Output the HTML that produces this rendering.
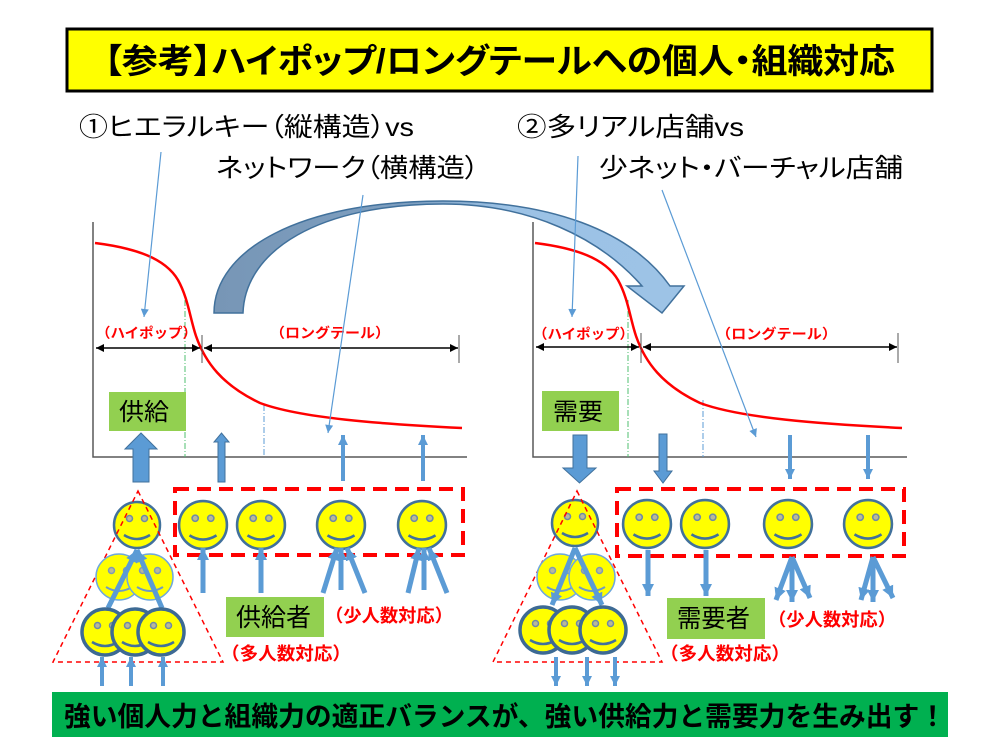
<!DOCTYPE html>
<html><head><meta charset="utf-8"><style>
html,body{margin:0;padding:0;background:#fff;}
svg{display:block;}
text{font-family:"Liberation Sans","Noto Sans CJK JP",sans-serif;}
.p{font-feature-settings:"palt";}
</style></head><body>
<svg width="1000" height="750" viewBox="0 0 1000 750" xmlns="http://www.w3.org/2000/svg">
<defs>
<marker id="bh" viewBox="0 0 10 10" refX="10" refY="5" markerWidth="10" markerHeight="8" orient="auto-start-reverse" markerUnits="userSpaceOnUse"><path d="M0,0 L10,5 L0,10z" fill="#000"/></marker>
<marker id="th" viewBox="0 0 10 10" refX="10" refY="5" markerWidth="10" markerHeight="8" orient="auto" markerUnits="userSpaceOnUse"><path d="M0,0 L10,5 L0,10z" fill="#5b9bd5"/></marker>
<marker id="tk" viewBox="0 0 10 10" refX="10" refY="5" markerWidth="12" markerHeight="14" orient="auto" markerUnits="userSpaceOnUse"><path d="M0,0 L10,5 L0,10z" fill="#5b9bd5"/></marker>
<marker id="ts" viewBox="0 0 10 10" refX="10" refY="5" markerWidth="10" markerHeight="12" orient="auto" markerUnits="userSpaceOnUse"><path d="M0,0 L10,5 L0,10z" fill="#5b9bd5"/></marker>
<linearGradient id="g" x1="214" x2="684" y1="0" y2="0" gradientUnits="userSpaceOnUse">
<stop offset="0" stop-color="#7796b6"/><stop offset="0.42" stop-color="#7e9fc0"/><stop offset="0.62" stop-color="#9cc2e5"/><stop offset="1" stop-color="#9dc3e6"/></linearGradient>
<g id="fa"><circle r="23" fill="#ffff00" stroke="#41719c" stroke-width="2.5"/><circle cx="-7.5" cy="-6.5" r="3" fill="#b8b89a" stroke="#6f8aa5" stroke-width="1.5"/><circle cx="7.5" cy="-6.5" r="3" fill="#b8b89a" stroke="#6f8aa5" stroke-width="1.5"/><path d="M-13,10 Q0,18 13,10" fill="none" stroke="#41719c" stroke-width="2.5"/></g>
<g id="fm"><circle r="23" fill="#ffff00" stroke="#6fa8dc" stroke-width="1.5"/><circle cx="-7.5" cy="-6.5" r="3" fill="#b8b89a" stroke="#7f9ab5" stroke-width="1.5"/><circle cx="7.5" cy="-6.5" r="3" fill="#b8b89a" stroke="#7f9ab5" stroke-width="1.5"/><path d="M-13,10 Q0,18 13,10" fill="none" stroke="#6f9ac5" stroke-width="2"/></g>
<g id="fb"><circle r="23" fill="#ffff00" stroke="#3d6a94" stroke-width="3.5"/><circle cx="-7.5" cy="-6.5" r="3" fill="#b8b89a" stroke="#6f8aa5" stroke-width="1.5"/><circle cx="7.5" cy="-6.5" r="3" fill="#b8b89a" stroke="#6f8aa5" stroke-width="1.5"/><path d="M-13,10 Q0,18 13,10" fill="none" stroke="#41719c" stroke-width="2.5"/></g>
</defs>
<rect width="1000" height="750" fill="#fff"/>

<!-- Title -->
<rect x="67" y="29" width="865" height="62" fill="#ffff00" stroke="#000" stroke-width="3"/>
<text class="p" x="104" y="73" font-size="34" font-weight="bold" textLength="791" lengthAdjust="spacingAndGlyphs">【参考】ハイポップ/ロングテールへの個人・組織対応</text>

<!-- subheadings -->
<text class="p" x="79" y="136" font-size="26" textLength="335" lengthAdjust="spacingAndGlyphs">①ヒエラルキー（縦構造）vs</text>
<text class="p" x="216" y="177" font-size="26" textLength="263" lengthAdjust="spacingAndGlyphs">ネットワーク（横構造）</text>
<text class="p" x="517" y="136" font-size="26" textLength="227" lengthAdjust="spacingAndGlyphs">②多リアル店舗vs</text>
<text class="p" x="599" y="177" font-size="26" textLength="304" lengthAdjust="spacingAndGlyphs">少ネット・バーチャル店舗</text>

<!-- axes -->
<path d="M93,222 V457 H467" fill="none" stroke="#595959" stroke-width="1.5"/>
<path d="M533,222 V457 H907" fill="none" stroke="#595959" stroke-width="1.5"/>

<!-- dash-dot guides -->
<g stroke-width="1" fill="none" stroke-dasharray="6,2,1,2">
<line x1="185" y1="300" x2="185" y2="457" stroke="#4fbf6f"/>
<line x1="264" y1="405" x2="264" y2="457" stroke="#5b9bd5"/>
<line x1="628" y1="300" x2="628" y2="457" stroke="#4fbf6f"/>
<line x1="703" y1="400" x2="703" y2="457" stroke="#5b9bd5"/>
</g>

<!-- red curves -->
<path d="M95,243 C135,248 165,258 178,280 C188,298 190,318 196,336 C205,362 222,385 260,403 C300,418 380,424 462,428" fill="none" stroke="#ff0000" stroke-width="2.5"/>
<path d="M535,243 C575,248 605,258 618,280 C628,298 630,318 636,336 C645,362 662,385 700,403 C740,418 820,424 902,428" fill="none" stroke="#ff0000" stroke-width="2.5"/>

<!-- double arrows -->
<g stroke="#000" stroke-width="1.5">
<line x1="96" y1="348" x2="200" y2="348" marker-start="url(#bh)" marker-end="url(#bh)"/>
<line x1="204" y1="348" x2="458" y2="348" marker-start="url(#bh)" marker-end="url(#bh)"/>
<line x1="536" y1="347" x2="639" y2="347" marker-start="url(#bh)" marker-end="url(#bh)"/>
<line x1="643" y1="347" x2="897" y2="347" marker-start="url(#bh)" marker-end="url(#bh)"/>
</g>
<g stroke="#555" stroke-width="1">
<line x1="202" y1="335" x2="202" y2="363"/><line x1="459" y1="335" x2="459" y2="363"/>
<line x1="641" y1="333" x2="641" y2="363"/><line x1="898" y1="333" x2="898" y2="363"/>
</g>

<!-- chart labels -->
<g fill="#ff0000" font-weight="bold" font-size="14">
<text x="96" y="338" textLength="101" lengthAdjust="spacingAndGlyphs">（ハイポップ）</text>
<text x="270" y="338" textLength="120" lengthAdjust="spacingAndGlyphs">（ロングテール）</text>
<text x="533" y="339" textLength="101" lengthAdjust="spacingAndGlyphs">（ハイポップ）</text>
<text x="716" y="339" textLength="121" lengthAdjust="spacingAndGlyphs">（ロングテール）</text>
</g>

<!-- green boxes -->
<rect x="109" y="392" width="77" height="39" fill="#92d050"/>
<text x="119" y="420" font-size="24" textLength="50" lengthAdjust="spacingAndGlyphs">供給</text>
<rect x="542" y="391" width="77" height="40" fill="#92d050"/>
<text x="553" y="420" font-size="24" textLength="50" lengthAdjust="spacingAndGlyphs">需要</text>

<!-- curved big arrow -->
<path d="M214,313 C214,250 300,201 443,201 C550,201 630,230 670,286 L684,286 L662,313 L627,286 L642,286 C600,238 530,204 443,204 C320,204 245,250 243,313 Z" fill="url(#g)" stroke="#41719c" stroke-width="1.5"/>

<!-- thin connectors -->
<g stroke="#5b9bd5" stroke-width="1.2" fill="none">
<line x1="161" y1="152" x2="144" y2="317" marker-end="url(#th)"/>
<line x1="363" y1="195" x2="328" y2="433" marker-end="url(#th)"/>
<line x1="578" y1="156" x2="572" y2="317" marker-end="url(#th)"/>
<line x1="662" y1="190" x2="756" y2="437" marker-end="url(#th)"/>
</g>

<!-- block arrows left (up) -->
<g fill="#5b9bd5" stroke="#41719c" stroke-width="1">
<path d="M133,482 V449 H125 L141,433 L157,449 H149 V482 Z"/>
<path d="M218,482 V442 H214 L221.5,433 L229,442 H225 V482 Z"/>
<path d="M563,468 H573 V435 H587 V468 H596 L579.5,483 Z"/>
<path d="M654,471 H659 V434 H667 V471 H672 L663,483 Z"/>
</g>
<g stroke="#5b9bd5" stroke-width="4" fill="none">
<line x1="343" y1="481" x2="343" y2="435" marker-end="url(#ts)"/>
<line x1="423" y1="481" x2="423" y2="435" marker-end="url(#ts)"/>
<line x1="790" y1="435" x2="790" y2="479" marker-end="url(#ts)"/>
<line x1="868" y1="435" x2="868" y2="479" marker-end="url(#ts)"/>
</g>

<!-- red dashed rects -->
<rect x="175" y="489" width="288" height="66" fill="none" stroke="#ff0000" stroke-width="4" stroke-dasharray="14,8"/>
<rect x="617" y="489" width="287" height="67" fill="none" stroke="#ff0000" stroke-width="4" stroke-dasharray="14,8"/>

<!-- boxed faces -->
<use href="#fa" transform="translate(203,525) scale(1.04)"/>
<use href="#fa" transform="translate(261,525) scale(1.04)"/>
<use href="#fa" transform="translate(341,525) scale(1.04)"/>
<use href="#fa" transform="translate(422,525) scale(1.04)"/>
<use href="#fa" transform="translate(647,524) scale(1.04)"/>
<use href="#fa" transform="translate(705,524) scale(1.04)"/>
<use href="#fa" transform="translate(788,524) scale(1.04)"/>
<use href="#fa" transform="translate(868,524) scale(1.04)"/>

<!-- hierarchy left -->
<use href="#fa" transform="translate(137,525)"/>
<polygon points="138,491 223,662 53,662" fill="none" stroke="#ff0000" stroke-width="1.5" stroke-dasharray="5,4"/>
<use href="#fm" transform="translate(119,577)"/>
<use href="#fm" transform="translate(150,577)"/>
<g stroke="#5b9bd5" stroke-width="5" fill="none">
<line x1="108" y1="608" x2="137" y2="550" marker-end="url(#tk)"/>
<line x1="162" y1="608" x2="137" y2="550" marker-end="url(#tk)"/>
</g>
<use href="#fb" transform="translate(105,632)"/>
<use href="#fb" transform="translate(135,632)"/>
<use href="#fb" transform="translate(161,632)"/>

<!-- hierarchy right -->
<use href="#fa" transform="translate(575,523)"/>
<polygon points="577,491 662,662 493,662" fill="none" stroke="#ff0000" stroke-width="1.5" stroke-dasharray="5,4"/>
<use href="#fm" transform="translate(560,577)"/>
<use href="#fm" transform="translate(592,577)"/>
<g stroke="#5b9bd5" stroke-width="5" fill="none">
<line x1="575" y1="548" x2="552" y2="605" marker-end="url(#tk)"/>
<line x1="575" y1="548" x2="602" y2="605" marker-end="url(#tk)"/>
</g>
<use href="#fb" transform="translate(543,630)"/>
<use href="#fb" transform="translate(572,630)"/>
<use href="#fb" transform="translate(603,630)"/>

<!-- face arrows -->
<g stroke="#5b9bd5" stroke-width="5" fill="none">
<line x1="203" y1="593" x2="203" y2="548" marker-end="url(#tk)"/>
<line x1="261" y1="593" x2="261" y2="548" marker-end="url(#tk)"/>
<line x1="323" y1="593" x2="337" y2="548" marker-end="url(#tk)"/>
<line x1="341" y1="590" x2="341" y2="548" marker-end="url(#tk)"/>
<line x1="365" y1="593" x2="347" y2="548" marker-end="url(#tk)"/>
<line x1="408" y1="593" x2="419" y2="548" marker-end="url(#tk)"/>
<line x1="424" y1="590" x2="424" y2="548" marker-end="url(#tk)"/>
<line x1="447" y1="593" x2="429" y2="548" marker-end="url(#tk)"/>
<line x1="648" y1="550" x2="648" y2="596" marker-end="url(#tk)"/>
<line x1="706" y1="550" x2="706" y2="596" marker-end="url(#tk)"/>
<line x1="792" y1="557" x2="776" y2="600" marker-end="url(#tk)"/>
<line x1="792" y1="557" x2="792" y2="602" marker-end="url(#tk)"/>
<line x1="792" y1="557" x2="810" y2="598" marker-end="url(#tk)"/>
<line x1="873" y1="557" x2="861" y2="600" marker-end="url(#tk)"/>
<line x1="873" y1="557" x2="873" y2="602" marker-end="url(#tk)"/>
<line x1="873" y1="557" x2="893" y2="598" marker-end="url(#tk)"/>
</g>
<g stroke="#5b9bd5" stroke-width="4" fill="none">
<line x1="102" y1="686" x2="102" y2="657" marker-end="url(#ts)"/>
<line x1="131" y1="686" x2="131" y2="657" marker-end="url(#ts)"/>
<line x1="163" y1="686" x2="163" y2="657" marker-end="url(#ts)"/>
<line x1="556" y1="657" x2="556" y2="686" marker-end="url(#ts)"/>
<line x1="587" y1="657" x2="587" y2="686" marker-end="url(#ts)"/>
<line x1="615" y1="657" x2="615" y2="686" marker-end="url(#ts)"/>
</g>

<!-- lower labels -->
<rect x="226" y="597" width="98" height="40" fill="#92d050"/>
<text x="236" y="626" font-size="25" textLength="75" lengthAdjust="spacingAndGlyphs">供給者</text>
<rect x="667" y="598" width="98" height="41" fill="#92d050"/>
<text x="677" y="627" font-size="25" textLength="73" lengthAdjust="spacingAndGlyphs">需要者</text>
<g fill="#ff0000" font-weight="bold" font-size="18">
<text x="325" y="622" textLength="128" lengthAdjust="spacingAndGlyphs">（少人数対応）</text>
<text x="221" y="660" textLength="130" lengthAdjust="spacingAndGlyphs">（多人数対応）</text>
<text x="768" y="626" textLength="128" lengthAdjust="spacingAndGlyphs">（少人数対応）</text>
<text x="660" y="660" textLength="130" lengthAdjust="spacingAndGlyphs">（多人数対応）</text>
</g>

<!-- bottom bar -->
<rect x="52" y="692" width="896" height="45" fill="#00b050"/>
<text x="64" y="726" font-size="27" font-weight="bold" textLength="882" lengthAdjust="spacingAndGlyphs">強い個人力と組織力の適正バランスが、強い供給力と需要力を生み出す！</text>
</svg>
</body></html>
